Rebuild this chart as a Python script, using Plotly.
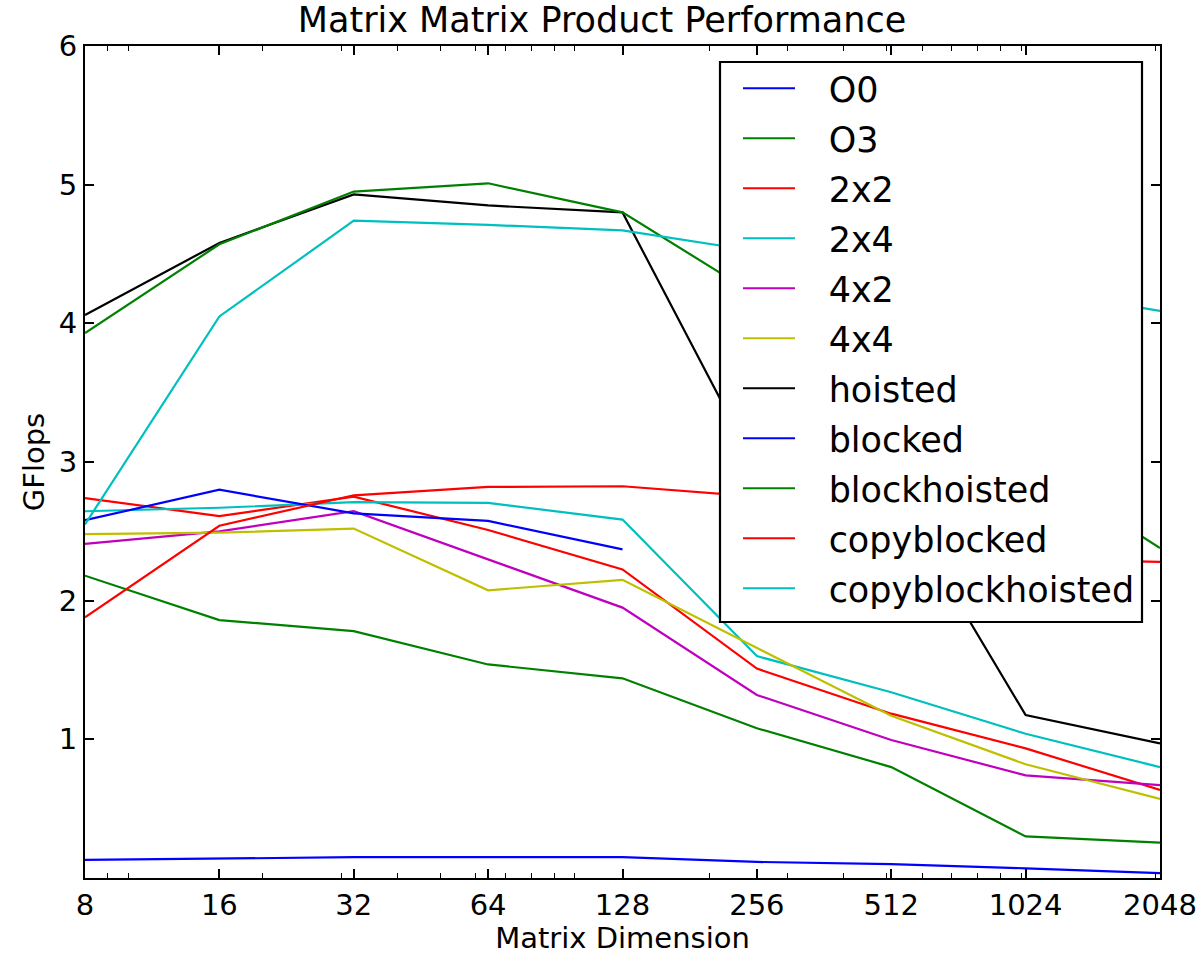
import plotly.graph_objects as go

sizes = [8, 16, 32, 64, 128, 256, 512, 1024, 2048]
size_labels = ["8", "16", "32", "64", "128", "256", "512", "1024", "2048"]
blocked_sizes = [8, 16, 32, 64, 128]

o0 = [0.13, 0.14, 0.15, 0.15, 0.15, 0.116, 0.10, 0.07, 0.035]
o3 = [2.18, 1.86, 1.78, 1.54, 1.44, 1.08, 0.80, 0.30, 0.255]
u2x2 = [2.74, 2.61, 2.75, 2.51, 2.225, 1.51, 1.185, 0.935, 0.635]
u2x4 = [2.645, 2.67, 2.71, 2.705, 2.585, 1.60, 1.34, 1.04, 0.80]
u4x2 = [2.41, 2.50, 2.645, 2.30, 1.95, 1.32, 0.995, 0.74, 0.67]
u4x4 = [2.48, 2.49, 2.52, 2.075, 2.15, 1.66, 1.17, 0.82, 0.57]
hoisted = [4.06, 4.58, 4.93, 4.85, 4.80, 2.95, 2.80, 1.175, 0.97]
blocked = [2.58, 2.80, 2.63, 2.575, 2.37]
blockhoisted = [3.93, 4.57, 4.95, 5.01, 4.80, 4.20, 3.75, 3.00, 2.38]
copyblocked = [1.88, 2.54, 2.76, 2.82, 2.825, 2.75, 2.55, 2.30, 2.28]
copyblockhoisted = [2.55, 4.05, 4.74, 4.71, 4.67, 4.52, 4.40, 4.25, 4.09]

names = ["O0", "O3", "2x2", "2x4", "4x2", "4x4", "hoisted", "blocked",
         "blockhoisted", "copyblocked", "copyblockhoisted"]
series = [o0, o3, u2x2, u2x4, u4x2, u4x4, hoisted, blocked, blockhoisted,
          copyblocked, copyblockhoisted]
xs = [sizes] * 7 + [blocked_sizes] + [sizes] * 3
colors = ["#0000ff", "#008000", "#ff0000", "#00bfbf", "#bf00bf", "#bfbf00",
          "#000000", "#0000ff", "#008000", "#ff0000", "#00bfbf"]

minor_vals = [9, 10, 20, 30, 40, 50, 60, 70, 80, 90, 100, 200, 300, 400, 500,
              600, 700, 800, 900, 1000, 2000]
y_ticks = [1, 2, 3, 4, 5, 6]

# plot area in pixels
L, R, T, B = 85, 1160, 46, 878
PW, PH = R - L, B - T

def px(xp):
    return (xp - L) / PW

def py(yp):
    return (B - yp) / PH

pad = "\u2002\u00a0"

fig = go.Figure()
for i, (n, x, y, c) in enumerate(zip(names, xs, series, colors)):
    fig.add_trace(go.Scatter(x=x, y=y, mode="lines", name=pad + n,
                             legendgroup="g%d" % i,
                             line=dict(color=c, width=2.2)))

# legend frame (white box with black border, above the traces)
fig.add_shape(type="rect", xref="paper", yref="paper",
              x0=px(720), x1=px(1142), y0=py(622), y1=py(62),
              fillcolor="white", line=dict(color="black", width=2.2),
              layer="above")

font_family = "DejaVu Sans, sans-serif"
fig.update_layout(
    width=1204, height=955,
    margin=dict(l=L, r=1204 - R, t=T, b=955 - B, autoexpand=False),
    paper_bgcolor="white", plot_bgcolor="white",
    font=dict(family=font_family, color="black", size=29),
    title=dict(text="Matrix Matrix Product Performance", x=0.5, xanchor="center",
               y=1 - 20 / 955, yanchor="middle", yref="container",
               font=dict(size=35, family=font_family, color="black")),
    showlegend=True,
    legend=dict(x=px(738), y=py(59), xanchor="left", yanchor="top",
                bgcolor="rgba(0,0,0,0)", borderwidth=0,
                font=dict(size=35, family=font_family, color="black"),
                itemwidth=52, traceorder="grouped", tracegroupgap=1.5),
    xaxis=dict(type="log", range=[0.90309, 3.31133], tickmode="array",
               tickvals=sizes, ticktext=size_labels, automargin=False,
               ticks="inside", ticklen=9, tickwidth=1.5, tickcolor="black",
               showline=True, linecolor="black", linewidth=2, mirror="allticks",
               showgrid=False, zeroline=False,
               tickfont=dict(size=29),
               minor=dict(tickvals=minor_vals, ticks="inside", ticklen=5,
                          tickwidth=1.2, tickcolor="black", showgrid=False),
               title=dict(text="Matrix Dimension", font=dict(size=29), standoff=5)),
    yaxis=dict(range=[0, 6], tickmode="array", tickvals=y_ticks,
               ticktext=[str(v) for v in y_ticks], automargin=False,
               ticks="inside", ticklen=9, tickwidth=1.5, tickcolor="black",
               showline=True, linecolor="black", linewidth=2, mirror="allticks",
               showgrid=False, zeroline=False,
               tickfont=dict(size=29),
               title=dict(text="GFlops", font=dict(size=29), standoff=6)),
)

fig.write_html("out.html", config={"displayModeBar": False},
               post_script="document.body.style.margin='0';document.body.style.padding='0';")
